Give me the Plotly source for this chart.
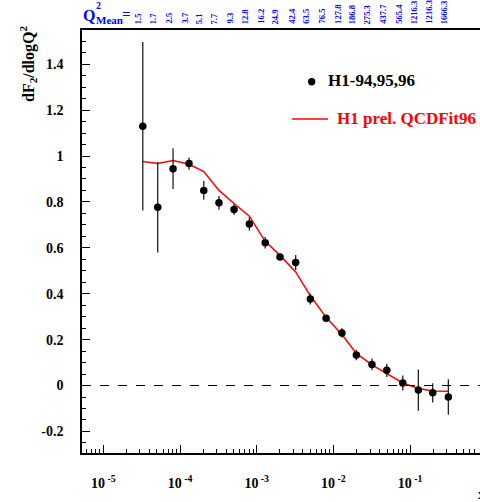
import numpy as np
import plotly.graph_objects as go

# ---- data ----
x_vals = [3.27e-5, 5.12e-5, 8.11e-5, 1.31e-4, 2.04e-4, 3.22e-4, 5.06e-4, 8.02e-4,
          1.29e-3, 2.01e-3, 3.22e-3, 5.0e-3, 8.02e-3, 0.0129, 0.0199, 0.0318,
          0.0496, 0.0802, 0.128, 0.197, 0.315]
h1_vals = [1.130, 0.777, 0.945, 0.967, 0.850, 0.796, 0.767, 0.704, 0.622, 0.560,
           0.536, 0.377, 0.293, 0.229, 0.133, 0.092, 0.066, 0.011, -0.020, -0.032, -0.050]
h1_errs = [0.367, 0.197, 0.089, 0.027, 0.041, 0.030, 0.024, 0.029, 0.025, 0.010,
           0.033, 0.024, 0.010, 0.020, 0.023, 0.026, 0.029, 0.033, 0.090, 0.042, 0.077]
fit_vals = [0.976, 0.967, 0.980, 0.964, 0.932, 0.850, 0.793, 0.738, 0.628, 0.567,
            0.495, 0.391, 0.297, 0.222, 0.140, 0.090, 0.052, 0.011, -0.013, -0.024, -0.025]
q2_labels = ["1.5", "1.7", "2.5", "3.7", "5.1", "7.7", "9.3", "12.8", "16.2", "24.9",
             "42.4", "63.5", "76.5", "127.8", "186.8", "275.3", "437.7", "565.4",
             "1216.3", "1216.3", "1666.3"]
x_tick_vals = [1e-5, 1e-4, 1e-3, 1e-2, 1e-1]
x_tick_text = ["10<sup> -5</sup>", "10<sup> -4</sup>", "10<sup> -3</sup>",
               "10<sup> -2</sup>", "10<sup> -1</sup>"]
y_tick_vals = [-0.2, 0, 0.2, 0.4, 0.6, 0.8, 1.0, 1.2, 1.4]
y_tick_text = ["-0.2", "0", "0.2", "0.4", "0.6", "0.8", "1", "1.2", "1.4"]

W, H = 480, 502
L, R, T, B = 82, 0, 30, 49
PW, PH = W - L - R, H - T - B
FONT = "Liberation Serif"


def px(xp):
    return (xp - L) / PW


def py(yp):
    return (H - B - yp) / PH


minor_x = [k * 10.0 ** d for d in range(-6, 1) for k in range(2, 10)]

fig = go.Figure()
fig.add_trace(go.Scatter(
    x=x_vals, y=fit_vals, mode="lines",
    line=dict(color="#ff0000", width=1.5), showlegend=False))
fig.add_trace(go.Scatter(
    x=x_vals, y=h1_vals, mode="markers",
    marker=dict(color="black", size=7.5),
    error_y=dict(type="data", array=h1_errs, color="#222222", thickness=1.3, width=0),
    showlegend=False))

fig.add_hline(y=0, line=dict(color="black", width=1, dash="dash"))

fig.update_layout(
    width=W, height=H, margin=dict(l=L, r=R, t=T, b=B),
    plot_bgcolor="white", paper_bgcolor="white",
    font=dict(family=FONT, color="black"),
    xaxis=dict(type="log", range=[-5.278, -0.089], showgrid=False, zeroline=False,
               showline=True, linecolor="black", linewidth=1.5, mirror=True,
               ticks="inside", ticklen=8, tickwidth=1, tickcolor="black",
               tickmode="array", tickvals=x_tick_vals, ticktext=x_tick_text,
               tickfont=dict(family=FONT, size=14, color="black", weight="bold"),
               ticklabelstandoff=16,
               minor=dict(ticks="inside", ticklen=4, tickwidth=1, tickcolor="black",
                          tickmode="array", tickvals=minor_x, showgrid=False)),
    yaxis=dict(range=[-0.294, 1.549], showgrid=False, zeroline=False,
               showline=True, linecolor="black", linewidth=1.5,
               ticks="inside", ticklen=8, tickwidth=1, tickcolor="black",
               tickmode="array", tickvals=y_tick_vals, ticktext=y_tick_text,
               tickfont=dict(family=FONT, size=14, color="black", weight="bold"),
               ticklabelstandoff=14,
               minor=dict(ticks="inside", ticklen=4, tickwidth=1, tickcolor="black",
                          dtick=0.05, showgrid=False)),
)

ann = []
# Q2 labels along top
for xv, lab in zip(x_vals, q2_labels):
    ann.append(dict(x=np.log10(xv), xref="x", y=py(26), yref="paper",
                    text=lab, textangle=-90, showarrow=False, xshift=-4,
                    xanchor="center", yanchor="bottom",
                    font=dict(family=FONT, size=8.6, color="#0000ff", weight="bold")))
# Q^2_Mean =
ann.append(dict(x=px(81), y=py(26), xref="paper", yref="paper", text="Q",
                showarrow=False, xanchor="left", yanchor="bottom", textangle=0,
                font=dict(family=FONT, size=16, color="#0000ff", weight="bold")))
ann.append(dict(x=px(94), y=py(13), xref="paper", yref="paper", text="2",
                showarrow=False, xanchor="left", yanchor="bottom", textangle=0,
                font=dict(family=FONT, size=10, color="#0000ff", weight="bold")))
ann.append(dict(x=px(93.5), y=py(28), xref="paper", yref="paper", text="Mean",
                showarrow=False, xanchor="left", yanchor="bottom", textangle=0,
                font=dict(family=FONT, size=11, color="#0000ff", weight="bold")))
ann.append(dict(x=px(120), y=py(24), xref="paper", yref="paper", text="=",
                showarrow=False, xanchor="left", yanchor="bottom", textangle=0,
                font=dict(family=FONT, size=15, color="#0000ff", weight="bold")))
# y title
ann.append(dict(x=px(28), y=py(64), xref="paper", yref="paper",
                text="dF<sub>2</sub>/dlogQ<sup>2</sup>", textangle=-90,
                showarrow=False, xanchor="center", yanchor="middle",
                font=dict(family=FONT, size=16, color="black", weight="bold")))
# x title (cut at right edge)
ann.append(dict(x=px(476), y=py(494), xref="paper", yref="paper", text="x",
                showarrow=False, xanchor="left", yanchor="middle",
                font=dict(family=FONT, size=14, color="black", weight="bold")))
# legend texts
ann.append(dict(x=px(326), y=py(81), xref="paper", yref="paper", text="H1-94,95,96",
                showarrow=False, xanchor="left", yanchor="middle",
                font=dict(family=FONT, size=17, color="black", weight="bold")))
ann.append(dict(x=px(335), y=py(118.5), xref="paper", yref="paper",
                text="H1 prel. QCDFit96",
                showarrow=False, xanchor="left", yanchor="middle",
                font=dict(family=FONT, size=17, color="#ff0000", weight="bold")))
fig.update_layout(annotations=ann)

# legend symbols
fig.add_shape(type="circle", xref="paper", yref="paper", xsizemode="pixel",
              ysizemode="pixel", xanchor=px(311.7), yanchor=py(81.7),
              x0=-3.7, x1=3.7, y0=-3.7, y1=3.7,
              fillcolor="black", line=dict(color="black", width=0))
fig.add_shape(type="line", xref="paper", yref="paper",
              x0=px(292), x1=px(328), y0=py(119), y1=py(119),
              line=dict(color="#ff0000", width=1.5))

fig.write_html("out.html")
